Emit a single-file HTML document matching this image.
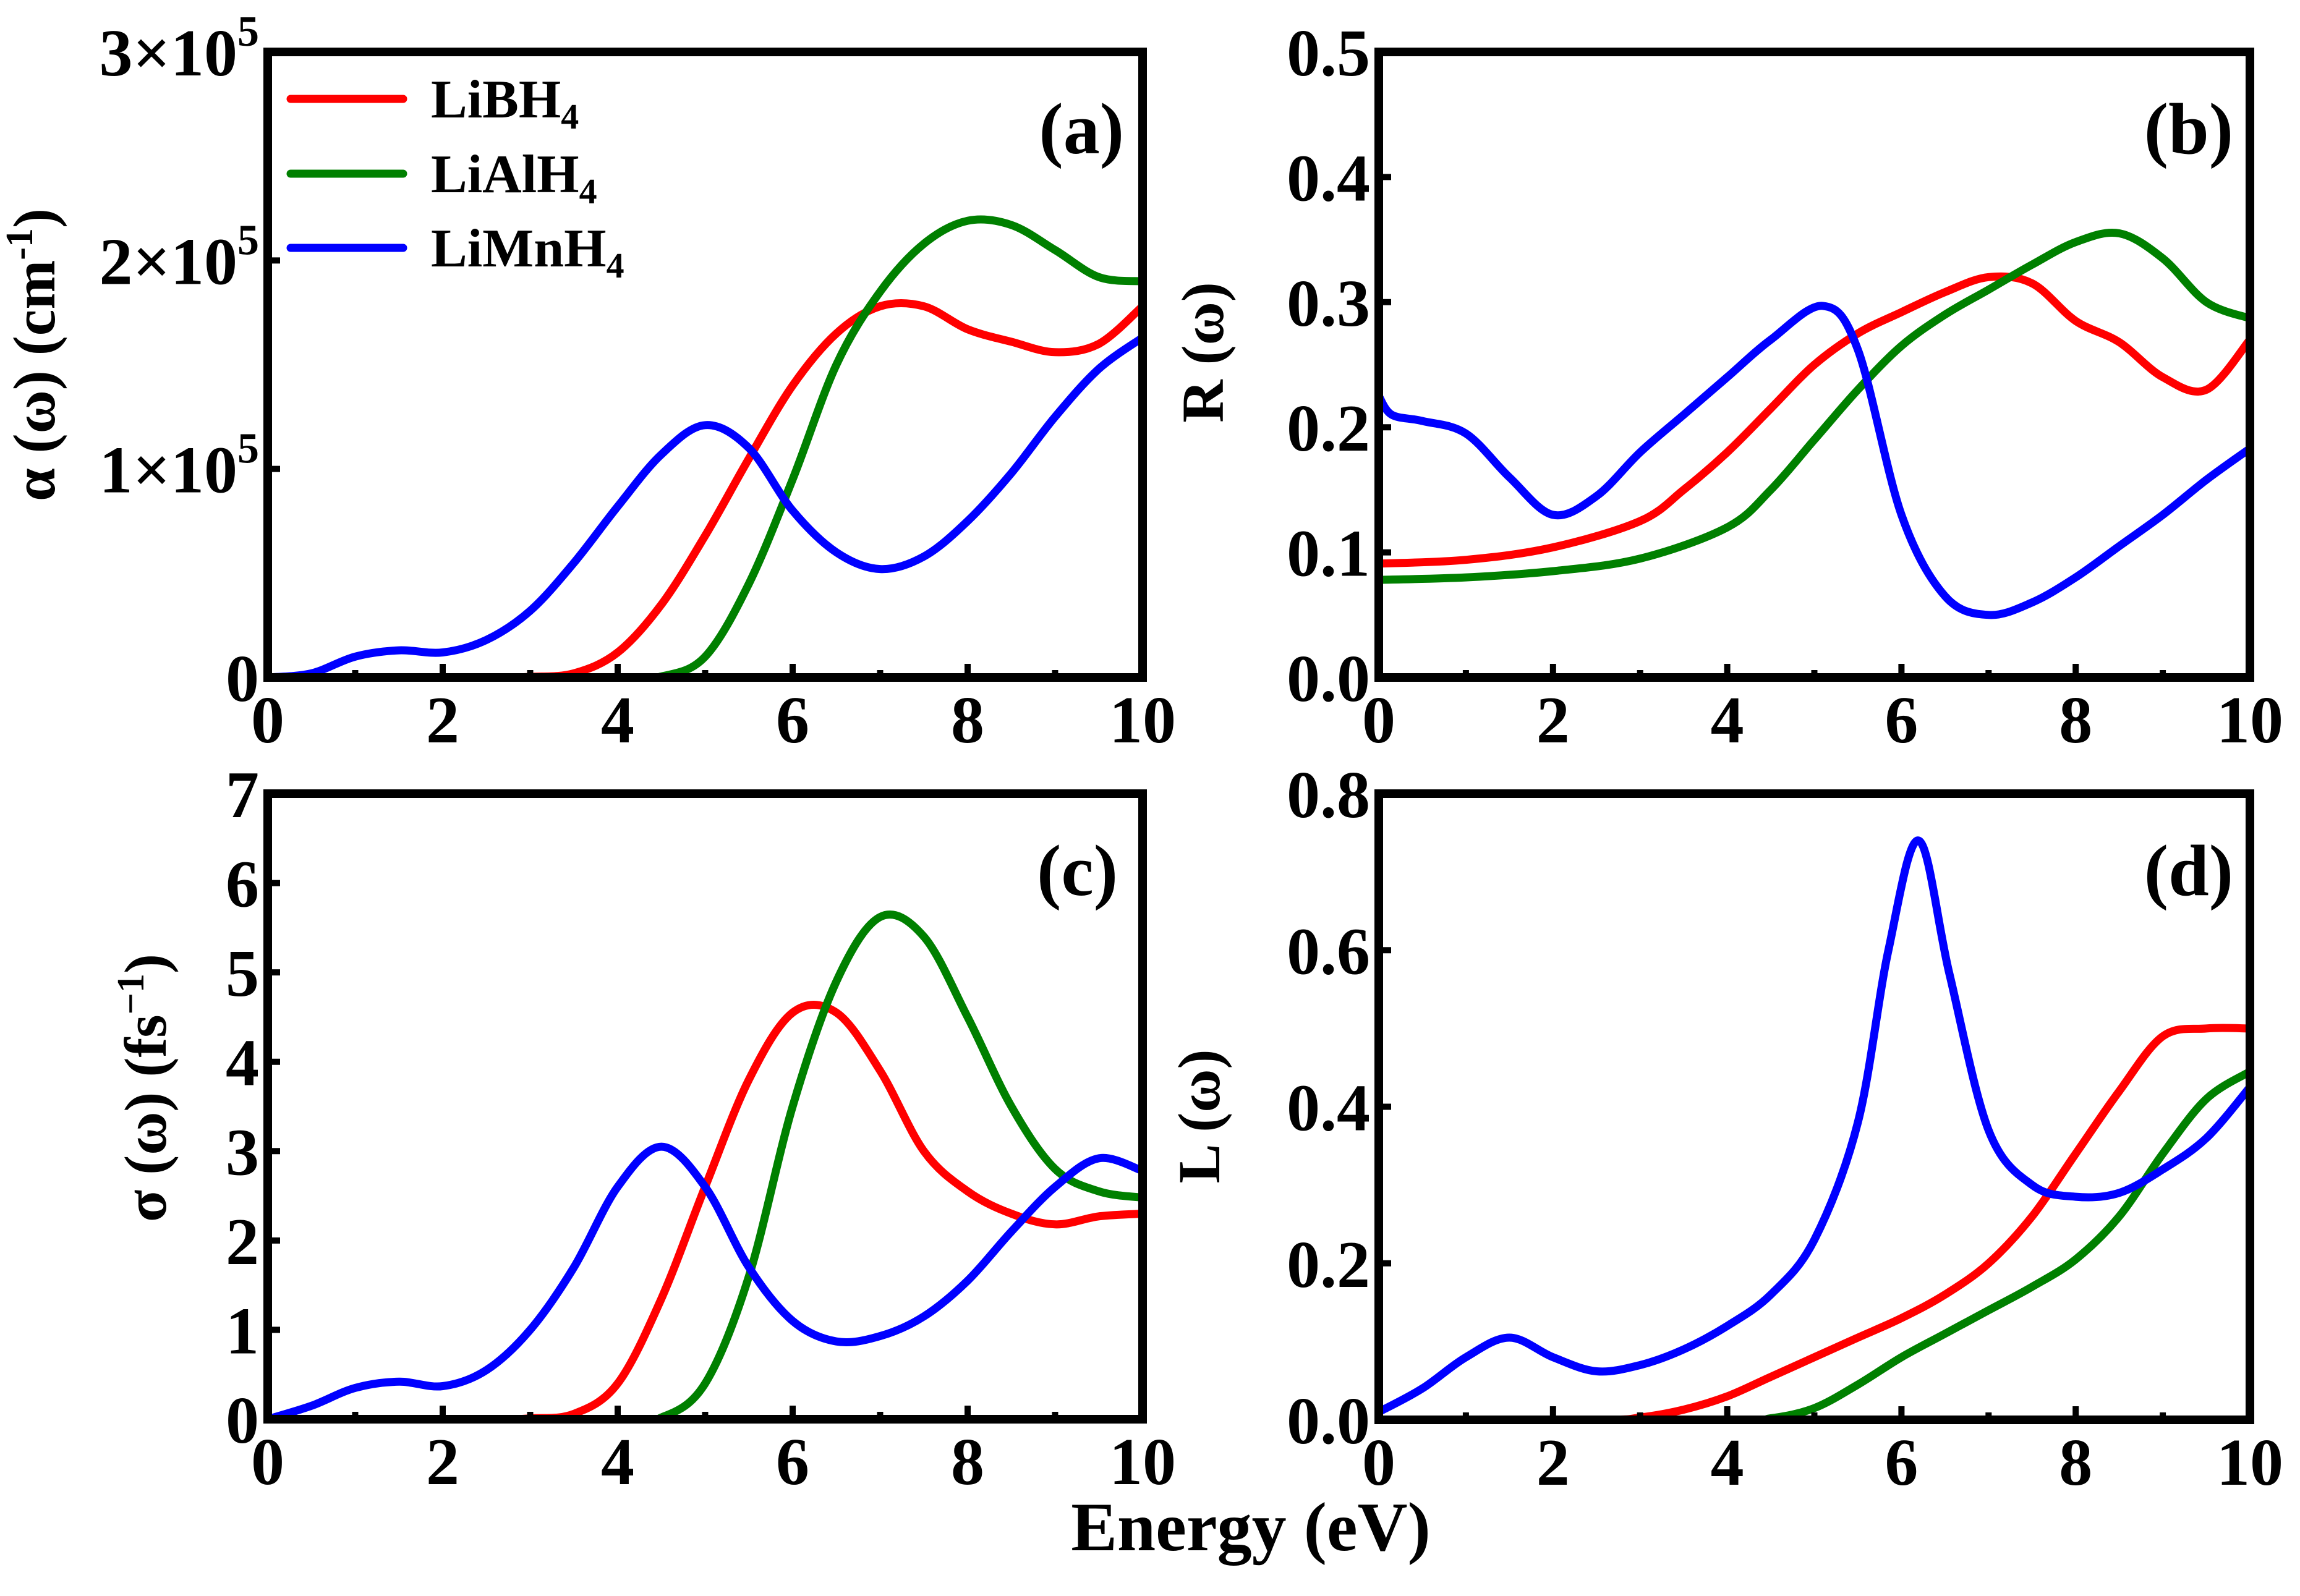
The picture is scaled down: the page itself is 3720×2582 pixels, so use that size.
<!DOCTYPE html>
<html><head><meta charset="utf-8"><style>
html,body{margin:0;padding:0;background:#fff;}
svg{display:block;}
text{font-family:"Liberation Serif",serif;font-weight:bold;fill:#000;}
</style></head><body>
<svg id="fig" width="3720" height="2582" viewBox="0 0 3720 2582" xmlns="http://www.w3.org/2000/svg">
<rect width="3720" height="2582" fill="#fff"/>
<text x="2023" y="2508" font-size="112" text-anchor="middle">Energy (eV)</text>
<g>
<line x1="470" y1="160" x2="652" y2="160" stroke="#ff0000" stroke-width="13" stroke-linecap="round"/>
<text x="697" y="190" font-size="88">LiBH<tspan font-size="58" dy="18">4</tspan></text>
<line x1="470" y1="281" x2="652" y2="281" stroke="#008000" stroke-width="13" stroke-linecap="round"/>
<text x="697" y="311" font-size="88">LiAlH<tspan font-size="58" dy="18">4</tspan></text>
<line x1="470" y1="401" x2="652" y2="401" stroke="#0000ff" stroke-width="13" stroke-linecap="round"/>
<text x="697" y="431" font-size="88">LiMnH<tspan font-size="58" dy="18">4</tspan></text>
</g>
</svg>
<script>
// Panel (a) absorption, units of 1e5 cm^-1
const aRedX=[0,2.5,3,3.5,4,4.5,5,5.5,6,6.5,7,7.5,8,8.5,9,9.5,10];
const aRedY=[0,0,0.003,0.02,0.12,0.35,0.68,1.05,1.4,1.65,1.78,1.78,1.67,1.61,1.56,1.6,1.78];
const aGreenX=[0,4,4.5,5,5.5,6,6.5,7,7.5,8,8.5,9,9.5,10];
const aGreenY=[0,0,0.005,0.1,0.45,0.95,1.5,1.85,2.08,2.19,2.17,2.05,1.92,1.9];
const aBlueX=[0,0.5,1,1.5,2,2.5,3,3.5,4,4.5,5,5.5,6,6.5,7,7.5,8,8.5,9,9.5,10];
const aBlueY=[0,0.02,0.1,0.13,0.12,0.18,0.32,0.55,0.82,1.07,1.21,1.1,0.8,0.6,0.52,0.58,0.75,0.98,1.25,1.48,1.63];
// Panel (b) reflectivity
const bRedX=[0,1,2,3,3.5,4,4.5,5,5.5,6,6.5,7,7.5,8,8.5,9,9.5,10];
const bRedY=[0.091,0.094,0.104,0.125,0.15,0.18,0.215,0.25,0.275,0.292,0.308,0.32,0.315,0.285,0.268,0.24,0.23,0.27];
const bGreenX=[0,1,2,3,4,4.5,5,5.5,6,6.5,7,7.5,8,8.5,9,9.5,10];
const bGreenY=[0.078,0.08,0.085,0.095,0.12,0.15,0.19,0.23,0.265,0.29,0.31,0.33,0.348,0.355,0.335,0.3,0.287];
const bBlueX=[0,0.15,0.5,1,1.5,2,2.5,3,3.5,4,4.5,5.1,5.5,6,6.5,7,7.5,8,8.5,9,9.5,10];
const bBlueY=[0.225,0.21,0.205,0.195,0.16,0.13,0.145,0.18,0.21,0.24,0.27,0.297,0.262,0.13,0.065,0.05,0.06,0.08,0.105,0.13,0.158,0.183];
// Panel (c) conductivity
const cRedX=[0,2.5,3,3.5,4,4.5,5,5.5,6,6.5,7,7.5,8,8.5,9,9.5,10];
const cRedY=[0,0,0.01,0.06,0.4,1.35,2.6,3.8,4.55,4.55,3.9,3.0,2.55,2.3,2.18,2.27,2.3];
const cGreenX=[0,4,4.5,5,5.5,6,6.5,7,7.5,8,8.5,9,9.5,10];
const cGreenY=[0,0,0.02,0.4,1.6,3.5,4.9,5.62,5.4,4.5,3.5,2.8,2.55,2.48];
const cBlueX=[0,0.5,1,1.5,2,2.5,3,3.5,4,4.5,5,5.5,6,6.5,7,7.5,8,8.5,9,9.5,10];
const cBlueY=[0,0.15,0.35,0.42,0.37,0.55,1.0,1.7,2.6,3.05,2.6,1.7,1.1,0.87,0.93,1.15,1.55,2.1,2.6,2.92,2.78];
// Panel (d) energy loss
const dRedX=[0,2.5,3,3.5,4,4.5,5,5.5,6,6.5,7,7.5,8,8.5,9,9.5,10];
const dRedY=[0,0,0.003,0.013,0.03,0.055,0.08,0.105,0.13,0.16,0.2,0.26,0.34,0.42,0.49,0.5,0.5];
const dGreenX=[0,4,4.5,5,5.5,6,6.5,7,7.5,8,8.5,9,9.5,10];
const dGreenY=[0,0,0.002,0.015,0.045,0.08,0.11,0.14,0.17,0.205,0.26,0.34,0.41,0.445];
const dBlueX=[0,0.5,1,1.5,2,2.5,3,3.5,4,4.5,5,5.5,5.85,6.2,6.55,7,7.5,8,8.5,9,9.5,10];
const dBlueY=[0.01,0.04,0.08,0.105,0.08,0.062,0.07,0.09,0.12,0.16,0.23,0.38,0.6,0.74,0.57,0.37,0.3,0.285,0.29,0.32,0.36,0.425];
// tick labels
const xTicks=[0,2,4,6,8,10];
const aTicks=[0,1,2,3];
const bTicks=[0,0.1,0.2,0.3,0.4,0.5];
const cTicks=[0,1,2,3,4,5,6,7];
const dTicks=[0,0.2,0.4,0.6,0.8];

const NS="http://www.w3.org/2000/svg";
const svg=document.getElementById('fig');
function mk(tag,attrs,parent){const e=document.createElementNS(NS,tag);for(const k in attrs)e.setAttribute(k,attrs[k]);(parent||svg).appendChild(e);return e;}

function smoothPath(pts){
  let d='M'+pts[0][0].toFixed(1)+','+pts[0][1].toFixed(1);
  for(let i=0;i<pts.length-1;i++){
    const p0=pts[i-1]||pts[i],p1=pts[i],p2=pts[i+1],p3=pts[i+2]||p2;
    const c1=[p1[0]+(p2[0]-p0[0])/6,p1[1]+(p2[1]-p0[1])/6];
    const c2=[p2[0]-(p3[0]-p1[0])/6,p2[1]-(p3[1]-p1[1])/6];
    d+='C'+c1[0].toFixed(1)+','+c1[1].toFixed(1)+' '+c2[0].toFixed(1)+','+c2[1].toFixed(1)+' '+p2[0].toFixed(1)+','+p2[1].toFixed(1);
  }
  return d;
}

function panel(id,L,T,R,B,ymax,yTicks,yFmt,series,title,tx,ty,label,lx,ly){
  const g=mk('g',{});
  
  
  const sx=v=>L+(R-L)*v/10, sy=v=>B-(B-T)*v/ymax;
  const cid='clip-'+id;
  const cp=mk('clipPath',{id:cid},g);mk('rect',{x:L,y:T,width:R-L,height:B-T},cp);
  series.forEach(s=>{
    const pts=s.x.map((xv,i)=>[sx(xv),sy(s.y[i])]);
    const p=mk('path',{d:smoothPath(pts),fill:'none',stroke:s.c,'stroke-width':13,'stroke-linejoin':'round','clip-path':'url(#'+cid+')'},g);
    
    
  });
  for(let v=0;v<=10;v++){
    const len=v%2===0?22:12;
    const t=mk('line',{x1:sx(v),x2:sx(v),y1:B,y2:B-len,stroke:'#000','stroke-width':10},g);
    
    
  }
  xTicks.forEach(v=>{
    const t=mk('text',{x:sx(v),y:B+105,'font-size':108,'text-anchor':'middle'},g);
    t.textContent=v;
    
    
  });
  yTicks.forEach(v=>{
    const tk=mk('line',{x1:L,x2:L+20,y1:sy(v),y2:sy(v),stroke:'#000','stroke-width':10},g);
    
    
    const t=mk('text',{x:L-14,y:sy(v)+38,'font-size':108,'text-anchor':'end'},g);
    yFmt(t,v);
    
    
  });
  const fr=mk('rect',{x:L,y:T,width:R-L,height:B-T,fill:'none',stroke:'#000','stroke-width':14},g);
  
  
  const yt=mk('text',{x:tx,y:ty,'font-size':96,'text-anchor':'middle',transform:'rotate(-90 '+tx+' '+ty+')'},g);
  yt.innerHTML=title;
  
  
  const pl=mk('text',{x:lx,y:ly,'font-size':118,'text-anchor':'end'},g);
  pl.textContent=label;
  
  
}
const sciFmt=(t,v)=>{ if(v===0){t.textContent='0';return;} t.innerHTML=v+'×10<tspan font-size="70" dy="-48">5</tspan>'; };
const decFmt=(t,v)=>{t.textContent=v.toFixed(1);};
const intFmt=(t,v)=>{t.textContent=v;};
const RED='#ff0000',GRN='#008000',BLU='#0000ff';

panel('a',433,84,1848,1096,3,aTicks,sciFmt,[
  {n:'libh4',c:RED,x:aRedX,y:aRedY},{n:'lialh4',c:GRN,x:aGreenX,y:aGreenY},{n:'limnh4',c:BLU,x:aBlueX,y:aBlueY}],
  'α (ω) (cm<tspan font-size="62" dy="-36">-1</tspan><tspan dy="36">)</tspan>',88,574,'(a)',1818,248);
panel('b',2230,84,3639,1096,0.5,bTicks,decFmt,[
  {n:'libh4',c:RED,x:bRedX,y:bRedY},{n:'lialh4',c:GRN,x:bGreenX,y:bGreenY},{n:'limnh4',c:BLU,x:bBlueX,y:bBlueY}],
  'R (ω)',1978,570,'(b)',3612,248);
panel('c',433,1284,1848,2296,7,cTicks,intFmt,[
  {n:'libh4',c:RED,x:cRedX,y:cRedY},{n:'lialh4',c:GRN,x:cGreenX,y:cGreenY},{n:'limnh4',c:BLU,x:cBlueX,y:cBlueY}],
  'σ (ω) (fs<tspan font-size="62" dy="-36">−1</tspan><tspan dy="36">)</tspan>',268,1760,'(c)',1808,1448);
panel('d',2230,1284,3639,2297,0.8,dTicks,decFmt,[
  {n:'libh4',c:RED,x:dRedX,y:dRedY},{n:'lialh4',c:GRN,x:dGreenX,y:dGreenY},{n:'limnh4',c:BLU,x:dBlueX,y:dBlueY}],
  'L (ω)',1972,1806,'(d)',3612,1448);
</script>
</body></html>
